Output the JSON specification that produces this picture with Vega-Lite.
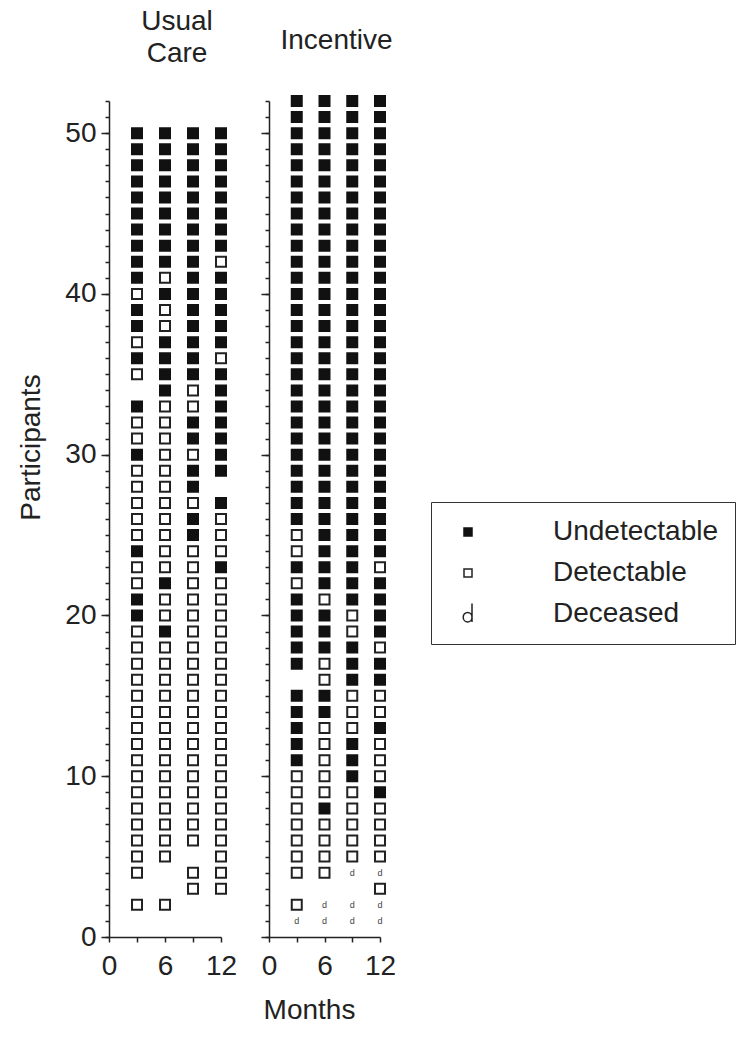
{
"$schema":"https://vega.github.io/schema/vega-lite/v6.json",
"padding":{"left":17,"top":8,"right":5,"bottom":5},
"bounds":"flush",
"spacing":48,
"config":{
 "font":"Liberation Sans",
 "view":{"stroke":null},
 "axis":{"grid":false,"domainColor":"#222","tickColor":"#222","labelColor":"#222","titleColor":"#222","domainWidth":1.5,"tickWidth":1.5,"labelFont":"Liberation Sans","titleFont":"Liberation Sans","titleFontWeight":"normal","labelFontSize":28,"titleFontSize":28},
 "title":{"font":"Liberation Sans","fontSize":28,"fontWeight":"normal","color":"#222","anchor":"middle","frame":"group","baseline":"bottom","offset":32},
 "legend":{"orient":"none","legendX":322,"legendY":401,"strokeColor":"#333","padding":16,"labelFont":"Liberation Sans","labelFontSize":28,"labelColor":"#222","labelLimit":400,"symbolSize":64,"symbolStrokeColor":"#111","symbolStrokeWidth":1.5,"rowPadding":13,"labelOffset":71,"symbolOffset":7}
},
"datasets":{
"uc":[
{"m":3,"p":50,"s":"U"},{"m":6,"p":50,"s":"U"},{"m":9,"p":50,"s":"U"},{"m":12,"p":50,"s":"U"},
{"m":3,"p":49,"s":"U"},{"m":6,"p":49,"s":"U"},{"m":9,"p":49,"s":"U"},{"m":12,"p":49,"s":"U"},
{"m":3,"p":48,"s":"U"},{"m":6,"p":48,"s":"U"},{"m":9,"p":48,"s":"U"},{"m":12,"p":48,"s":"U"},
{"m":3,"p":47,"s":"U"},{"m":6,"p":47,"s":"U"},{"m":9,"p":47,"s":"U"},{"m":12,"p":47,"s":"U"},
{"m":3,"p":46,"s":"U"},{"m":6,"p":46,"s":"U"},{"m":9,"p":46,"s":"U"},{"m":12,"p":46,"s":"U"},
{"m":3,"p":45,"s":"U"},{"m":6,"p":45,"s":"U"},{"m":9,"p":45,"s":"U"},{"m":12,"p":45,"s":"U"},
{"m":3,"p":44,"s":"U"},{"m":6,"p":44,"s":"U"},{"m":9,"p":44,"s":"U"},{"m":12,"p":44,"s":"U"},
{"m":3,"p":43,"s":"U"},{"m":6,"p":43,"s":"U"},{"m":9,"p":43,"s":"U"},{"m":12,"p":43,"s":"U"},
{"m":3,"p":42,"s":"U"},{"m":6,"p":42,"s":"U"},{"m":9,"p":42,"s":"U"},{"m":12,"p":42,"s":"O"},
{"m":3,"p":41,"s":"U"},{"m":6,"p":41,"s":"O"},{"m":9,"p":41,"s":"U"},{"m":12,"p":41,"s":"U"},
{"m":3,"p":40,"s":"O"},{"m":6,"p":40,"s":"U"},{"m":9,"p":40,"s":"U"},{"m":12,"p":40,"s":"U"},
{"m":3,"p":39,"s":"U"},{"m":6,"p":39,"s":"O"},{"m":9,"p":39,"s":"U"},{"m":12,"p":39,"s":"U"},
{"m":3,"p":38,"s":"U"},{"m":6,"p":38,"s":"O"},{"m":9,"p":38,"s":"U"},{"m":12,"p":38,"s":"U"},
{"m":3,"p":37,"s":"O"},{"m":6,"p":37,"s":"U"},{"m":9,"p":37,"s":"U"},{"m":12,"p":37,"s":"U"},
{"m":3,"p":36,"s":"U"},{"m":6,"p":36,"s":"U"},{"m":9,"p":36,"s":"U"},{"m":12,"p":36,"s":"O"},
{"m":3,"p":35,"s":"O"},{"m":6,"p":35,"s":"U"},{"m":9,"p":35,"s":"U"},{"m":12,"p":35,"s":"U"},
{"m":6,"p":34,"s":"U"},{"m":9,"p":34,"s":"O"},{"m":12,"p":34,"s":"U"},
{"m":3,"p":33,"s":"U"},{"m":6,"p":33,"s":"O"},{"m":9,"p":33,"s":"O"},{"m":12,"p":33,"s":"U"},
{"m":3,"p":32,"s":"O"},{"m":6,"p":32,"s":"O"},{"m":9,"p":32,"s":"U"},{"m":12,"p":32,"s":"U"},
{"m":3,"p":31,"s":"O"},{"m":6,"p":31,"s":"O"},{"m":9,"p":31,"s":"U"},{"m":12,"p":31,"s":"U"},
{"m":3,"p":30,"s":"U"},{"m":6,"p":30,"s":"O"},{"m":9,"p":30,"s":"O"},{"m":12,"p":30,"s":"U"},
{"m":3,"p":29,"s":"O"},{"m":6,"p":29,"s":"O"},{"m":9,"p":29,"s":"U"},{"m":12,"p":29,"s":"U"},
{"m":3,"p":28,"s":"O"},{"m":6,"p":28,"s":"O"},{"m":9,"p":28,"s":"U"},
{"m":3,"p":27,"s":"O"},{"m":6,"p":27,"s":"O"},{"m":9,"p":27,"s":"O"},{"m":12,"p":27,"s":"U"},
{"m":3,"p":26,"s":"O"},{"m":6,"p":26,"s":"O"},{"m":9,"p":26,"s":"U"},{"m":12,"p":26,"s":"O"},
{"m":3,"p":25,"s":"O"},{"m":6,"p":25,"s":"O"},{"m":9,"p":25,"s":"U"},{"m":12,"p":25,"s":"O"},
{"m":3,"p":24,"s":"U"},{"m":6,"p":24,"s":"O"},{"m":9,"p":24,"s":"O"},{"m":12,"p":24,"s":"O"},
{"m":3,"p":23,"s":"O"},{"m":6,"p":23,"s":"O"},{"m":9,"p":23,"s":"O"},{"m":12,"p":23,"s":"U"},
{"m":3,"p":22,"s":"O"},{"m":6,"p":22,"s":"U"},{"m":9,"p":22,"s":"O"},{"m":12,"p":22,"s":"O"},
{"m":3,"p":21,"s":"U"},{"m":6,"p":21,"s":"O"},{"m":9,"p":21,"s":"O"},{"m":12,"p":21,"s":"O"},
{"m":3,"p":20,"s":"U"},{"m":6,"p":20,"s":"O"},{"m":9,"p":20,"s":"O"},{"m":12,"p":20,"s":"O"},
{"m":3,"p":19,"s":"O"},{"m":6,"p":19,"s":"U"},{"m":9,"p":19,"s":"O"},{"m":12,"p":19,"s":"O"},
{"m":3,"p":18,"s":"O"},{"m":6,"p":18,"s":"O"},{"m":9,"p":18,"s":"O"},{"m":12,"p":18,"s":"O"},
{"m":3,"p":17,"s":"O"},{"m":6,"p":17,"s":"O"},{"m":9,"p":17,"s":"O"},{"m":12,"p":17,"s":"O"},
{"m":3,"p":16,"s":"O"},{"m":6,"p":16,"s":"O"},{"m":9,"p":16,"s":"O"},{"m":12,"p":16,"s":"O"},
{"m":3,"p":15,"s":"O"},{"m":6,"p":15,"s":"O"},{"m":9,"p":15,"s":"O"},{"m":12,"p":15,"s":"O"},
{"m":3,"p":14,"s":"O"},{"m":6,"p":14,"s":"O"},{"m":9,"p":14,"s":"O"},{"m":12,"p":14,"s":"O"},
{"m":3,"p":13,"s":"O"},{"m":6,"p":13,"s":"O"},{"m":9,"p":13,"s":"O"},{"m":12,"p":13,"s":"O"},
{"m":3,"p":12,"s":"O"},{"m":6,"p":12,"s":"O"},{"m":9,"p":12,"s":"O"},{"m":12,"p":12,"s":"O"},
{"m":3,"p":11,"s":"O"},{"m":6,"p":11,"s":"O"},{"m":9,"p":11,"s":"O"},{"m":12,"p":11,"s":"O"},
{"m":3,"p":10,"s":"O"},{"m":6,"p":10,"s":"O"},{"m":9,"p":10,"s":"O"},{"m":12,"p":10,"s":"O"},
{"m":3,"p":9,"s":"O"},{"m":6,"p":9,"s":"O"},{"m":9,"p":9,"s":"O"},{"m":12,"p":9,"s":"O"},
{"m":3,"p":8,"s":"O"},{"m":6,"p":8,"s":"O"},{"m":9,"p":8,"s":"O"},{"m":12,"p":8,"s":"O"},
{"m":3,"p":7,"s":"O"},{"m":6,"p":7,"s":"O"},{"m":9,"p":7,"s":"O"},{"m":12,"p":7,"s":"O"},
{"m":3,"p":6,"s":"O"},{"m":6,"p":6,"s":"O"},{"m":9,"p":6,"s":"O"},{"m":12,"p":6,"s":"O"},
{"m":3,"p":5,"s":"O"},{"m":6,"p":5,"s":"O"},{"m":12,"p":5,"s":"O"},
{"m":3,"p":4,"s":"O"},{"m":9,"p":4,"s":"O"},{"m":12,"p":4,"s":"O"},
{"m":9,"p":3,"s":"O"},{"m":12,"p":3,"s":"O"},
{"m":3,"p":2,"s":"O"},{"m":6,"p":2,"s":"O"}
],
"inc":[
{"m":3,"p":52,"s":"U"},{"m":6,"p":52,"s":"U"},{"m":9,"p":52,"s":"U"},{"m":12,"p":52,"s":"U"},
{"m":3,"p":51,"s":"U"},{"m":6,"p":51,"s":"U"},{"m":9,"p":51,"s":"U"},{"m":12,"p":51,"s":"U"},
{"m":3,"p":50,"s":"U"},{"m":6,"p":50,"s":"U"},{"m":9,"p":50,"s":"U"},{"m":12,"p":50,"s":"U"},
{"m":3,"p":49,"s":"U"},{"m":6,"p":49,"s":"U"},{"m":9,"p":49,"s":"U"},{"m":12,"p":49,"s":"U"},
{"m":3,"p":48,"s":"U"},{"m":6,"p":48,"s":"U"},{"m":9,"p":48,"s":"U"},{"m":12,"p":48,"s":"U"},
{"m":3,"p":47,"s":"U"},{"m":6,"p":47,"s":"U"},{"m":9,"p":47,"s":"U"},{"m":12,"p":47,"s":"U"},
{"m":3,"p":46,"s":"U"},{"m":6,"p":46,"s":"U"},{"m":9,"p":46,"s":"U"},{"m":12,"p":46,"s":"U"},
{"m":3,"p":45,"s":"U"},{"m":6,"p":45,"s":"U"},{"m":9,"p":45,"s":"U"},{"m":12,"p":45,"s":"U"},
{"m":3,"p":44,"s":"U"},{"m":6,"p":44,"s":"U"},{"m":9,"p":44,"s":"U"},{"m":12,"p":44,"s":"U"},
{"m":3,"p":43,"s":"U"},{"m":6,"p":43,"s":"U"},{"m":9,"p":43,"s":"U"},{"m":12,"p":43,"s":"U"},
{"m":3,"p":42,"s":"U"},{"m":6,"p":42,"s":"U"},{"m":9,"p":42,"s":"U"},{"m":12,"p":42,"s":"U"},
{"m":3,"p":41,"s":"U"},{"m":6,"p":41,"s":"U"},{"m":9,"p":41,"s":"U"},{"m":12,"p":41,"s":"U"},
{"m":3,"p":40,"s":"U"},{"m":6,"p":40,"s":"U"},{"m":9,"p":40,"s":"U"},{"m":12,"p":40,"s":"U"},
{"m":3,"p":39,"s":"U"},{"m":6,"p":39,"s":"U"},{"m":9,"p":39,"s":"U"},{"m":12,"p":39,"s":"U"},
{"m":3,"p":38,"s":"U"},{"m":6,"p":38,"s":"U"},{"m":9,"p":38,"s":"U"},{"m":12,"p":38,"s":"U"},
{"m":3,"p":37,"s":"U"},{"m":6,"p":37,"s":"U"},{"m":9,"p":37,"s":"U"},{"m":12,"p":37,"s":"U"},
{"m":3,"p":36,"s":"U"},{"m":6,"p":36,"s":"U"},{"m":9,"p":36,"s":"U"},{"m":12,"p":36,"s":"U"},
{"m":3,"p":35,"s":"U"},{"m":6,"p":35,"s":"U"},{"m":9,"p":35,"s":"U"},{"m":12,"p":35,"s":"U"},
{"m":3,"p":34,"s":"U"},{"m":6,"p":34,"s":"U"},{"m":9,"p":34,"s":"U"},{"m":12,"p":34,"s":"U"},
{"m":3,"p":33,"s":"U"},{"m":6,"p":33,"s":"U"},{"m":9,"p":33,"s":"U"},{"m":12,"p":33,"s":"U"},
{"m":3,"p":32,"s":"U"},{"m":6,"p":32,"s":"U"},{"m":9,"p":32,"s":"U"},{"m":12,"p":32,"s":"U"},
{"m":3,"p":31,"s":"U"},{"m":6,"p":31,"s":"U"},{"m":9,"p":31,"s":"U"},{"m":12,"p":31,"s":"U"},
{"m":3,"p":30,"s":"U"},{"m":6,"p":30,"s":"U"},{"m":9,"p":30,"s":"U"},{"m":12,"p":30,"s":"U"},
{"m":3,"p":29,"s":"U"},{"m":6,"p":29,"s":"U"},{"m":9,"p":29,"s":"U"},{"m":12,"p":29,"s":"U"},
{"m":3,"p":28,"s":"U"},{"m":6,"p":28,"s":"U"},{"m":9,"p":28,"s":"U"},{"m":12,"p":28,"s":"U"},
{"m":3,"p":27,"s":"U"},{"m":6,"p":27,"s":"U"},{"m":9,"p":27,"s":"U"},{"m":12,"p":27,"s":"U"},
{"m":3,"p":26,"s":"U"},{"m":6,"p":26,"s":"U"},{"m":9,"p":26,"s":"U"},{"m":12,"p":26,"s":"U"},
{"m":3,"p":25,"s":"O"},{"m":6,"p":25,"s":"U"},{"m":9,"p":25,"s":"U"},{"m":12,"p":25,"s":"U"},
{"m":3,"p":24,"s":"O"},{"m":6,"p":24,"s":"U"},{"m":9,"p":24,"s":"U"},{"m":12,"p":24,"s":"U"},
{"m":3,"p":23,"s":"U"},{"m":6,"p":23,"s":"U"},{"m":9,"p":23,"s":"U"},{"m":12,"p":23,"s":"O"},
{"m":3,"p":22,"s":"O"},{"m":6,"p":22,"s":"U"},{"m":9,"p":22,"s":"U"},{"m":12,"p":22,"s":"U"},
{"m":3,"p":21,"s":"U"},{"m":6,"p":21,"s":"O"},{"m":9,"p":21,"s":"U"},{"m":12,"p":21,"s":"U"},
{"m":3,"p":20,"s":"U"},{"m":6,"p":20,"s":"U"},{"m":9,"p":20,"s":"O"},{"m":12,"p":20,"s":"U"},
{"m":3,"p":19,"s":"U"},{"m":6,"p":19,"s":"U"},{"m":9,"p":19,"s":"O"},{"m":12,"p":19,"s":"U"},
{"m":3,"p":18,"s":"U"},{"m":6,"p":18,"s":"U"},{"m":9,"p":18,"s":"U"},{"m":12,"p":18,"s":"O"},
{"m":3,"p":17,"s":"U"},{"m":6,"p":17,"s":"O"},{"m":9,"p":17,"s":"U"},{"m":12,"p":17,"s":"U"},
{"m":6,"p":16,"s":"O"},{"m":9,"p":16,"s":"U"},{"m":12,"p":16,"s":"U"},
{"m":3,"p":15,"s":"U"},{"m":6,"p":15,"s":"U"},{"m":9,"p":15,"s":"O"},{"m":12,"p":15,"s":"O"},
{"m":3,"p":14,"s":"U"},{"m":6,"p":14,"s":"U"},{"m":9,"p":14,"s":"O"},{"m":12,"p":14,"s":"O"},
{"m":3,"p":13,"s":"U"},{"m":6,"p":13,"s":"O"},{"m":9,"p":13,"s":"O"},{"m":12,"p":13,"s":"U"},
{"m":3,"p":12,"s":"U"},{"m":6,"p":12,"s":"O"},{"m":9,"p":12,"s":"U"},{"m":12,"p":12,"s":"O"},
{"m":3,"p":11,"s":"U"},{"m":6,"p":11,"s":"O"},{"m":9,"p":11,"s":"U"},{"m":12,"p":11,"s":"O"},
{"m":3,"p":10,"s":"O"},{"m":6,"p":10,"s":"O"},{"m":9,"p":10,"s":"U"},{"m":12,"p":10,"s":"O"},
{"m":3,"p":9,"s":"O"},{"m":6,"p":9,"s":"O"},{"m":9,"p":9,"s":"O"},{"m":12,"p":9,"s":"U"},
{"m":3,"p":8,"s":"O"},{"m":6,"p":8,"s":"U"},{"m":9,"p":8,"s":"O"},{"m":12,"p":8,"s":"O"},
{"m":3,"p":7,"s":"O"},{"m":6,"p":7,"s":"O"},{"m":9,"p":7,"s":"O"},{"m":12,"p":7,"s":"O"},
{"m":3,"p":6,"s":"O"},{"m":6,"p":6,"s":"O"},{"m":9,"p":6,"s":"O"},{"m":12,"p":6,"s":"O"},
{"m":3,"p":5,"s":"O"},{"m":6,"p":5,"s":"O"},{"m":9,"p":5,"s":"O"},{"m":12,"p":5,"s":"O"},
{"m":3,"p":4,"s":"O"},{"m":6,"p":4,"s":"O"},{"m":9,"p":4,"s":"d"},{"m":12,"p":4,"s":"d"},
{"m":12,"p":3,"s":"O"},
{"m":3,"p":2,"s":"O"},{"m":6,"p":2,"s":"d"},{"m":9,"p":2,"s":"d"},{"m":12,"p":2,"s":"d"},
{"m":3,"p":1,"s":"d"},{"m":6,"p":1,"s":"d"},{"m":9,"p":1,"s":"d"},{"m":12,"p":1,"s":"d"}
]
},
"hconcat":[
{
 "title":{"text":["Usual","Care"],"lineHeight":32,"dx":12},
 "width":112,"height":836,
 "layer":[
  {"data":{"name":"uc"},"transform":[{"filter":"datum.s !== 'd'"}],
   "mark":{"type":"point","shape":"square","filled":true,"size":100,"strokeWidth":2,"opacity":1},
   "encoding":{
    "x":{"field":"m","type":"quantitative","scale":{"domain":[0,12],"nice":false},"axis":{"values":[0,3,6,9,12],"tickSize":5,"labelPadding":10,"labelExpr":"datum.value % 6 === 0 ? datum.label : ''","labelFlush":false,"labelOverlap":false,"title":null}},
    "y":{"field":"p","type":"quantitative","scale":{"domain":[0,52],"nice":false},"axis":{"orient":"left","values":[0,1,2,3,4,5,6,7,8,9,10,11,12,13,14,15,16,17,18,19,20,21,22,23,24,25,26,27,28,29,30,31,32,33,34,35,36,37,38,39,40,41,42,43,44,45,46,47,48,49,50,51,52],"labels":false,"tickSize":4,"title":null}},
    "fill":{"field":"s","type":"nominal","scale":{"domain":["U","O","d"],"range":["#111111","#ffffff","transparent"]},"legend":{"title":null,"labelExpr":"datum.label === 'U' ? 'Undetectable' : datum.label === 'O' ? 'Detectable' : 'Deceased'"}},
    "stroke":{"field":"s","type":"nominal","scale":{"domain":["U","O","d"],"range":["#111111","#222222","#222222"]},"legend":{"title":null,"labelExpr":"datum.label === 'U' ? 'Undetectable' : datum.label === 'O' ? 'Detectable' : 'Deceased'"}},
    "shape":{"field":"s","type":"nominal","scale":{"domain":["U","O","d"],"range":["square","square","M1,-2.6L1,2M1,0.8A1.1,1.2 0 1,1 -1.2,0.8A1.1,1.2 0 1,1 1,0.8"]},"legend":{"title":null,"labelExpr":"datum.label === 'U' ? 'Undetectable' : datum.label === 'O' ? 'Detectable' : 'Deceased'"}}
   }},
  {"data":{"name":"uc"},"transform":[{"filter":"datum.s === 'd'"}],
   "mark":{"type":"text","text":"d","fontSize":9,"color":"#444"},
   "encoding":{
    "x":{"field":"m","type":"quantitative","scale":{"domain":[0,12],"nice":false},"axis":{"values":[0,3,6,9,12],"tickSize":5,"labelPadding":10,"labelExpr":"datum.value % 6 === 0 ? datum.label : ''","labelFlush":false,"labelOverlap":false,"title":null}},
    "y":{"field":"p","type":"quantitative","scale":{"domain":[0,52],"nice":false},"axis":{"orient":"left","values":[0,10,20,30,40,50],"tickSize":8,"labelPadding":5,"domain":false,"title":"Participants","titlePadding":19,"titleY":346}}
   }}
 ],
 "resolve":{"axis":{"y":"independent"}}
},
{
 "title":{"text":"Incentive","dx":12,"dy":-5},
 "width":111,"height":836,
 "layer":[
  {"data":{"name":"inc"},"transform":[{"filter":"datum.s !== 'd'"}],
   "mark":{"type":"point","shape":"square","filled":true,"size":100,"strokeWidth":2,"opacity":1},
   "encoding":{
    "x":{"field":"m","type":"quantitative","scale":{"domain":[0,12],"nice":false},"axis":{"values":[0,3,6,9,12],"tickSize":5,"labelPadding":10,"labelExpr":"datum.value % 6 === 0 ? datum.label : ''","labelFlush":false,"labelOverlap":false,"title":"Months","titleX":40,"titleAlign":"center","titlePadding":16}},
    "y":{"field":"p","type":"quantitative","scale":{"domain":[0,52],"nice":false},"axis":{"orient":"left","values":[0,1,2,3,4,5,6,7,8,9,10,11,12,13,14,15,16,17,18,19,20,21,22,23,24,25,26,27,28,29,30,31,32,33,34,35,36,37,38,39,40,41,42,43,44,45,46,47,48,49,50,51,52],"labels":false,"tickSize":4,"title":null}},
    "fill":{"field":"s","type":"nominal","scale":{"domain":["U","O","d"],"range":["#111111","#ffffff","transparent"]},"legend":{"title":null,"labelExpr":"datum.label === 'U' ? 'Undetectable' : datum.label === 'O' ? 'Detectable' : 'Deceased'"}},
    "stroke":{"field":"s","type":"nominal","scale":{"domain":["U","O","d"],"range":["#111111","#222222","#222222"]},"legend":{"title":null,"labelExpr":"datum.label === 'U' ? 'Undetectable' : datum.label === 'O' ? 'Detectable' : 'Deceased'"}},
    "shape":{"field":"s","type":"nominal","scale":{"domain":["U","O","d"],"range":["square","square","M1,-2.6L1,2M1,0.8A1.1,1.2 0 1,1 -1.2,0.8A1.1,1.2 0 1,1 1,0.8"]},"legend":{"title":null,"labelExpr":"datum.label === 'U' ? 'Undetectable' : datum.label === 'O' ? 'Detectable' : 'Deceased'"}}
   }},
  {"data":{"name":"inc"},"transform":[{"filter":"datum.s === 'd'"}],
   "mark":{"type":"text","text":"d","fontSize":9,"color":"#444"},
   "encoding":{
    "x":{"field":"m","type":"quantitative","scale":{"domain":[0,12],"nice":false},"axis":{"values":[0,3,6,9,12],"tickSize":5,"labelPadding":10,"labelExpr":"datum.value % 6 === 0 ? datum.label : ''","labelFlush":false,"labelOverlap":false,"title":"Months","titleX":40,"titleAlign":"center","titlePadding":16}},
    "y":{"field":"p","type":"quantitative","scale":{"domain":[0,52],"nice":false},"axis":{"orient":"left","values":[0,10,20,30,40,50],"tickSize":8,"labels":false,"domain":false,"title":null}}
   }}
 ],
 "resolve":{"axis":{"y":"independent"}}
}
]
}
